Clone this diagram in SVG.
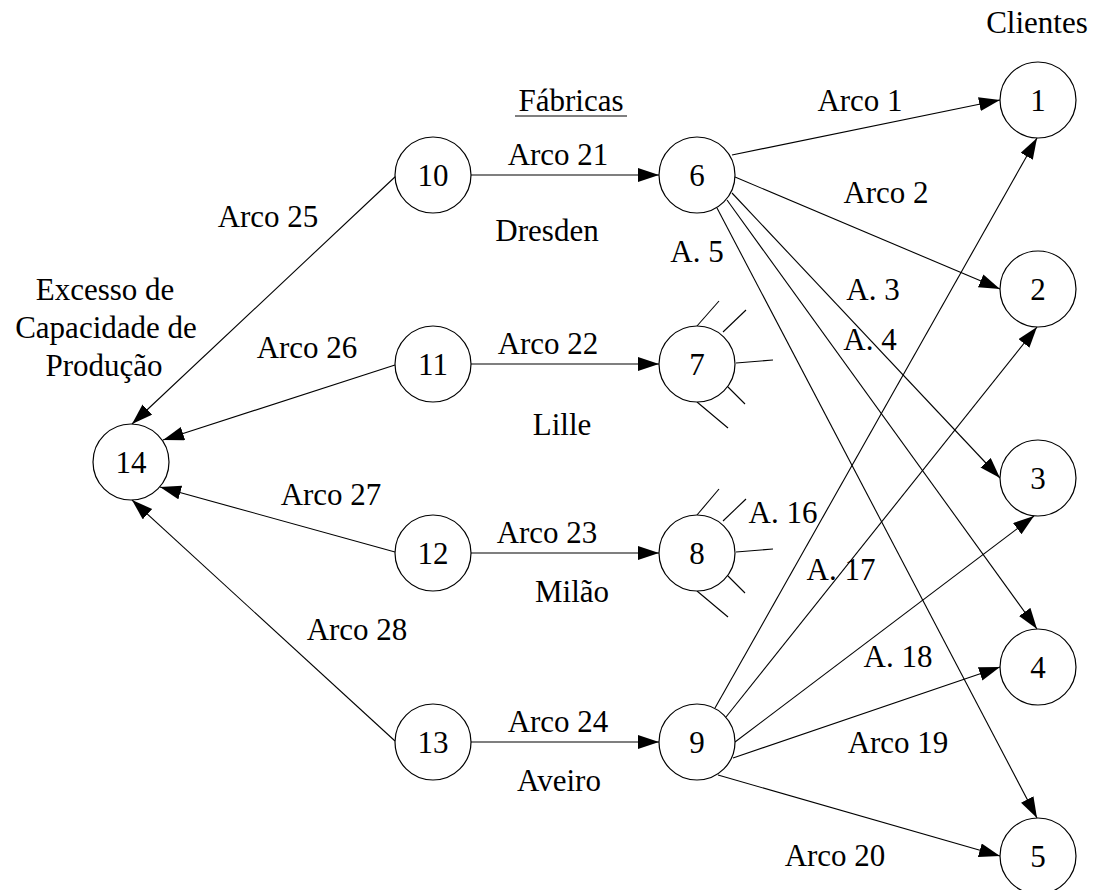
<svg xmlns="http://www.w3.org/2000/svg" width="1095" height="890" viewBox="0 0 1095 890">
  <style>
    .node circle { fill: #fff; stroke: #000; stroke-width: 1.2; }
    text { font-family: 'Liberation Serif', 'Times New Roman', Tinos, 'Nimbus Roman', 'DejaVu Serif', serif; font-size: 31px; fill: #000; text-anchor: middle; }
    .edges line { stroke: #000; stroke-width: 1.1; }
    .arr { marker-end: url(#head); }
  </style>
  <defs>
    <marker id="head" markerUnits="userSpaceOnUse" markerWidth="22" markerHeight="15" refX="21" refY="7" orient="auto">
      <path d="M0,0 L21,7 L0,14 z" fill="#000"/>
    </marker>
  </defs>
  <rect width="1095" height="890" fill="#fff"/>

  <!-- connectors -->
  <g class="edges">
    <!-- supply arcs into the factories -->
    <line class="arr" x1="471" y1="175" x2="659" y2="175"/>
    <line class="arr" x1="471" y1="364" x2="659" y2="364"/>
    <line class="arr" x1="471" y1="553" x2="659" y2="553"/>
    <line class="arr" x1="471" y1="742" x2="659" y2="742"/>
    <!-- excess capacity arcs -->
    <line class="arr" x1="396" y1="176" x2="132" y2="424"/>
    <line class="arr" x1="395" y1="365" x2="163" y2="440"/>
    <line class="arr" x1="395" y1="552" x2="160" y2="487"/>
    <line class="arr" x1="395" y1="741" x2="132" y2="500"/>
    <!-- Dresden to clients -->
    <line class="arr" x1="732" y1="155" x2="1000" y2="100"/>
    <line class="arr" x1="735" y1="177" x2="1000" y2="289"/>
    <line class="arr" x1="732" y1="193" x2="1000" y2="478"/>
    <line class="arr" x1="727" y1="200" x2="1037" y2="629"/>
    <line class="arr" x1="717" y1="208" x2="1037" y2="818"/>
    <!-- Aveiro to clients -->
    <line class="arr" x1="715" y1="708" x2="1037" y2="138"/>
    <line class="arr" x1="726" y1="717" x2="1037" y2="327"/>
    <line class="arr" x1="735" y1="742" x2="1034" y2="516"/>
    <line class="arr" x1="733" y1="758" x2="1000" y2="667"/>
    <line class="arr" x1="718" y1="775" x2="1000" y2="856"/>
    <!-- stub arcs of Lille -->
    <line x1="697" y1="326" x2="719" y2="301"/>
    <line x1="723" y1="332" x2="746" y2="310"/>
    <line x1="736" y1="363" x2="773" y2="360"/>
    <line x1="726" y1="385" x2="745" y2="404"/>
    <line x1="697" y1="402" x2="728" y2="428"/>
    <!-- stub arcs of Milão -->
    <line x1="697" y1="515" x2="719" y2="489"/>
    <line x1="723" y1="521" x2="746" y2="499"/>
    <line x1="736" y1="552" x2="773" y2="549"/>
    <line x1="726" y1="574" x2="745" y2="593"/>
    <line x1="697" y1="591" x2="728" y2="617"/>
  </g>

  <!-- nodes -->
  <g id="n1" class="node"><circle cx="1038" cy="100" r="38"/><text x="1038" y="111">1</text></g>
  <g id="n2" class="node"><circle cx="1038" cy="289" r="38"/><text x="1038" y="300">2</text></g>
  <g id="n3" class="node"><circle cx="1038" cy="478" r="38"/><text x="1038" y="489">3</text></g>
  <g id="n4" class="node"><circle cx="1038" cy="667" r="38"/><text x="1038" y="678">4</text></g>
  <g id="n5" class="node"><circle cx="1038" cy="856" r="38"/><text x="1038" y="867">5</text></g>
  <g id="n6" class="node"><circle cx="697" cy="175" r="38"/><text x="697" y="186">6</text></g>
  <g id="n7" class="node"><circle cx="697" cy="364" r="38"/><text x="697" y="375">7</text></g>
  <g id="n8" class="node"><circle cx="697" cy="553" r="38"/><text x="697" y="564">8</text></g>
  <g id="n9" class="node"><circle cx="697" cy="742" r="38"/><text x="697" y="753">9</text></g>
  <g id="n10" class="node"><circle cx="433" cy="175" r="38"/><text x="433" y="186">10</text></g>
  <g id="n11" class="node"><circle cx="433" cy="364" r="38"/><text x="433" y="375">11</text></g>
  <g id="n12" class="node"><circle cx="433" cy="553" r="38"/><text x="433" y="564">12</text></g>
  <g id="n13" class="node"><circle cx="433" cy="742" r="38"/><text x="433" y="753">13</text></g>
  <g id="n14" class="node"><circle cx="131" cy="462" r="38"/><text x="131" y="473">14</text></g>

  <!-- labels -->
  <g id="labels">
    <text x="1037" y="33">Clientes</text>
    <text x="571" y="111">Fábricas</text>
    <line x1="515" y1="116" x2="627" y2="116" stroke="#000" stroke-width="1.2"/>
    <text x="105" y="300">Excesso de</text>
    <text x="106" y="338">Capacidade de</text>
    <text x="104" y="376">Produção</text>

    <text x="558" y="165">Arco 21</text>
    <text x="548" y="354">Arco 22</text>
    <text x="547" y="543">Arco 23</text>
    <text x="558" y="732">Arco 24</text>

    <text x="547" y="241">Dresden</text>
    <text x="562" y="435">Lille</text>
    <text x="572" y="602">Milão</text>
    <text x="559" y="791">Aveiro</text>

    <text x="268" y="227">Arco 25</text>
    <text x="307" y="358">Arco 26</text>
    <text x="331" y="505">Arco 27</text>
    <text x="357" y="640">Arco 28</text>

    <text x="860" y="111">Arco 1</text>
    <text x="886" y="203">Arco 2</text>
    <text x="873" y="300">A. 3</text>
    <text x="870" y="350">A. 4</text>
    <text x="697" y="262">A. 5</text>

    <text x="783" y="523">A. 16</text>
    <text x="841" y="580">A. 17</text>
    <text x="898" y="667">A. 18</text>
    <text x="898" y="753">Arco 19</text>
    <text x="835" y="866">Arco 20</text>
  </g>
</svg>
